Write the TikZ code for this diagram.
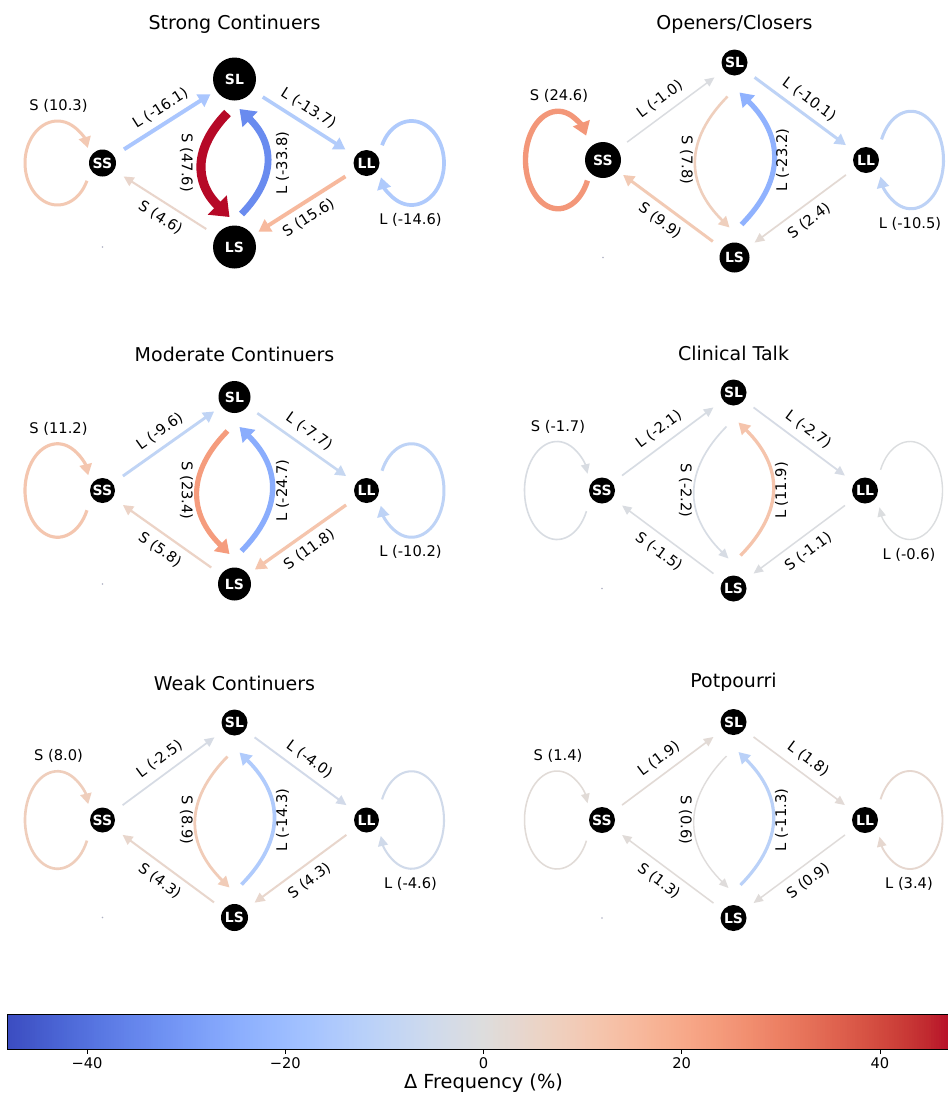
\documentclass[tikz,border=0pt]{standalone}
\usepackage{fontspec}
\setmainfont{DejaVu Sans}
\usetikzlibrary{arrows.meta,calc}
\definecolor{cw0}{RGB}{59,76,192}
\definecolor{cw1}{RGB}{68,90,204}
\definecolor{cw2}{RGB}{77,104,215}
\definecolor{cw3}{RGB}{87,117,225}
\definecolor{cw4}{RGB}{98,130,234}
\definecolor{cw5}{RGB}{108,142,241}
\definecolor{cw6}{RGB}{119,154,247}
\definecolor{cw7}{RGB}{130,165,251}
\definecolor{cw8}{RGB}{141,176,254}
\definecolor{cw9}{RGB}{152,185,255}
\definecolor{cw10}{RGB}{163,194,255}
\definecolor{cw11}{RGB}{174,201,253}
\definecolor{cw12}{RGB}{184,208,249}
\definecolor{cw13}{RGB}{194,213,244}
\definecolor{cw14}{RGB}{204,217,238}
\definecolor{cw15}{RGB}{213,219,230}
\definecolor{cw16}{RGB}{221,221,221}
\definecolor{cw17}{RGB}{229,216,209}
\definecolor{cw18}{RGB}{236,211,197}
\definecolor{cw19}{RGB}{241,204,184}
\definecolor{cw20}{RGB}{245,196,172}
\definecolor{cw21}{RGB}{247,187,159}
\definecolor{cw22}{RGB}{247,177,147}
\definecolor{cw23}{RGB}{247,166,134}
\definecolor{cw24}{RGB}{244,154,123}
\definecolor{cw25}{RGB}{241,141,111}
\definecolor{cw26}{RGB}{236,127,99}
\definecolor{cw27}{RGB}{229,112,88}
\definecolor{cw28}{RGB}{222,96,77}
\definecolor{cw29}{RGB}{213,80,66}
\definecolor{cw30}{RGB}{203,62,56}
\definecolor{cw31}{RGB}{192,40,47}
\definecolor{cw32}{RGB}{180,4,38}
\definecolor{dotc}{RGB}{175,178,195}
\newcommand\cwset[1]{%
 \pgfmathsetmacro\cwt{max(0,min(31.9999,(#1+48)/3))}%
 \pgfmathtruncatemacro\cwi{floor(\cwt)}%
 \pgfmathtruncatemacro\cwj{\cwi+1}%
 \pgfmathsetmacro\cwf{(\cwt-\cwi)*100}%
 \colorlet{ec}{cw\cwj!\cwf!cw\cwi}%
 \pgfmathsetmacro\lw{0.75*(1.3+0.165*abs(#1))}%
}
\def\getrad#1/#2/#3/#4\relax{\def\rSS{#1}\def\rSL{#2}\def\rLL{#3}\def\rLS{#4}}
\def\getval#1/#2/#3/#4/#5/#6/#7/#8\relax{\def\vA{#1}\def\vB{#2}\def\vC{#3}\def\vD{#4}\def\vE{#5}\def\vF{#6}\def\vG{#7}\def\vH{#8}}
\newcommand\sedge[5]{%
 \cwset{#3}%
 \pgfmathsetmacro\shA{0.75*max(25-#4,12)}%
 \pgfmathsetmacro\shB{0.75*max(25-#5,7)}%
 \draw[edge, line width=\lw pt, draw=ec, shorten <=\shA pt, shorten >=\shB pt] (#1) -- (#2);%
}
\newcommand\loopedge[5]{%
 \cwset{#2}%
 \draw[edge, line width=\lw pt, draw=ec] ($(#1)+({#3+32.5*cos(#4)},{\bb*sin(#4)})$) arc[start angle=#4, end angle=#5, x radius=32.5, y radius=\bb];%
}
% quadratic curve through named start, control, end coordinates
\newcommand\qedge[4]{%
 \cwset{#4}%
 \draw[edge, line width=\lw pt, draw=ec] (#1) .. controls ($(#1)!0.6667!(#2)$) and ($(#3)!0.6667!(#2)$) .. (#3);%
}
\newcommand\drawpanel[9]{%
 \getrad#7\relax
 \getval#8\relax
 \pgfmathsetmacro\bb{#4/2}%
 \pgfmathsetmacro\ang{atan(#4/#3)}%
 \pgfmathsetmacro\ox{15*sin(\ang)}%
 \pgfmathsetmacro\oy{15*cos(\ang)}%
 \pgfmathsetmacro\dSS{1.5*\rSS}%
 \pgfmathsetmacro\dSL{1.5*\rSL}%
 \pgfmathsetmacro\dLL{1.5*\rLL}%
 \pgfmathsetmacro\dLS{1.5*\rLS}%
 \pgfmathsetmacro\eSS{340-2*(\rSS-13)}%
 \pgfmathsetmacro\eLL{520-2*(\rLL-13)}%
 \node[ttl] (#9T) at (#1,#6) {#5};
 \node[nd, minimum size=\dSS pt] (#9SS) at ({#1-#3},#2) {SS};
 \node[nd, minimum size=\dSL pt] (#9SL) at (#1,{#2-#4}) {SL};
 \node[nd, minimum size=\dLL pt] (#9LL) at ({#1+#3},#2) {LL};
 \node[nd, minimum size=\dLS pt] (#9LS) at (#1,{#2+#4}) {LS};
 \fill[dotc] (#9SS |- #9LS) circle[radius=0.8];
 \loopedge{#9SS}{\vA}{-45}{25}{\eSS}
 \sedge{#9SS}{#9SL}{\vB}{\rSS}{\rSL}
 \sedge{#9SL}{#9LL}{\vC}{\rSL}{\rLL}
 \loopedge{#9LL}{\vD}{45}{205}{\eLL}
 \sedge{#9LL}{#9LS}{\vE}{\rLL}{\rLS}
 \sedge{#9LS}{#9SS}{\vF}{\rLS}{\rSS}
 \coordinate (#9gs) at ($(#9SL)+(-7,34)$);
 \coordinate (#9gc) at ($(#9SL)+({-6-(#4-32)},{#4+2})$);
 \coordinate (#9ge) at ($(#9LS)+(-5,-30)$);
 \qedge{#9gs}{#9gc}{#9ge}{\vG}
 \coordinate (#9hs) at ($(#9LS)+(7,-33)$);
 \coordinate (#9hc) at ($(#9LS)+({6+(#4-31.5)},{-#4-1.5})$);
 \coordinate (#9he) at ($(#9SL)+(5,30)$);
 \qedge{#9hs}{#9hc}{#9he}{\vH}
 \node[lab] (#9la) at ($(#9SS)+(-44,{-\bb-15})$) {S (\vA)};
 \node[lab, rotate=\ang] (#9lb) at ($(#9SS)!0.5!(#9SL)+(-\ox,-\oy)$) {L (\vB)};
 \node[lab, rotate=-\ang] (#9lc) at ($(#9SL)!0.5!(#9LL)+(\ox,-\oy)$) {L (\vC)};
 \node[lab] (#9ld) at ($(#9LL)+(44,{\bb+15})$) {L (\vD)};
 \node[lab, rotate=\ang] (#9le) at ($(#9LL)!0.5!(#9LS)+(\ox,\oy)$) {S (\vE)};
 \node[lab, rotate=-\ang] (#9lf) at ($(#9LS)!0.5!(#9SS)+(-\ox,\oy)$) {S (\vF)};
 \node[lab, rotate=-90] (#9lg) at ($(#9SL)!0.5!(#9LS)+(-48,0)$) {S (\vG)};
 \node[lab, rotate=90] (#9lh) at ($(#9SL)!0.5!(#9LS)+(48,0)$) {L (\vH)};
}
\begin{document}
\begin{tikzpicture}[x=0.75pt,y=-0.75pt,
  nd/.style={circle, fill=black, text=white, inner sep=0pt, outer sep=0pt, font=\bfseries\fontsize{10.5}{12}\selectfont},
  lab/.style={inner sep=0pt, font=\fontsize{11}{13}\selectfont},
  ttl/.style={inner sep=0pt, font=\fontsize{14.25}{17}\selectfont},
  edge/.style={-{Triangle[length=6pt 1, width=3.75pt 2.3]}}]
\fill[white] (0,0) rectangle (948,1093);
\useasboundingbox (0,0) rectangle (948,1093);
\drawpanel{234.5}{163}{132}{84}{Strong Continuers}{24}{13.5/21.5/13/21.5}{10.3/-16.1/-13.7/-14.6/15.6/4.6/47.6/-33.8}{a}
\drawpanel{734.5}{160}{131.5}{97.5}{Openers/Closers}{24}{18/13/13/15}{24.6/-1.0/-10.1/-10.5/2.4/9.9/7.8/-23.2}{b}
\drawpanel{234.5}{490.5}{132}{93.5}{Moderate Continuers}{354}{12.5/16/12.5/16.5}{11.2/-9.6/-7.7/-10.2/11.8/5.8/23.4/-24.7}{c}
\drawpanel{733.5}{490.5}{131.5}{98}{Clinical Talk}{353}{13/13/13/13}{-1.7/-2.1/-2.7/-0.6/-1.1/-1.5/-2.2/11.9}{d}
\drawpanel{234.5}{820}{132}{97.5}{Weak Continuers}{683}{12.5/13/12.5/13.5}{8.0/-2.5/-4.0/-4.6/4.3/4.3/8.9/-14.3}{e}
\drawpanel{733.5}{820}{131.5}{98}{Potpourri}{682}{13/13/13/13}{1.4/1.9/1.8/3.4/0.9/1.3/0.6/-11.3}{f}
% colour bar
\begin{scope}
\clip (0,0) rectangle (948,1093);
\foreach \i in {0,...,383} {
  \pgfmathsetmacro\vv{-48+(\i+0.5)*0.25}
  \cwset{\vv}
  \pgfmathsetmacro\xa{7.3+\i*0.25*9.91}
  \fill[ec] (\xa,1014) rectangle ({\xa+2.9},1049.3);
}
\draw[line width=0.6pt] (7.3,1014) rectangle (959,1049.3);
\foreach \t/\tl [count=\k] in {-40/{−40},-20/{−20},0/{0},20/{20},40/{40}} {
  \draw[line width=0.6pt] ({483.5+\t*9.91},1049.3) -- ({483.5+\t*9.91},1054);
  \node[lab] (tick\k) at ({483.5+\t*9.91},1063.5) {\tl};
}
\end{scope}
\node[ttl, font=\fontsize{14.5}{17}\selectfont] (cblabel) at (483.5,1083.5) {Δ Frequency (\%)};
\end{tikzpicture}
\end{document}
